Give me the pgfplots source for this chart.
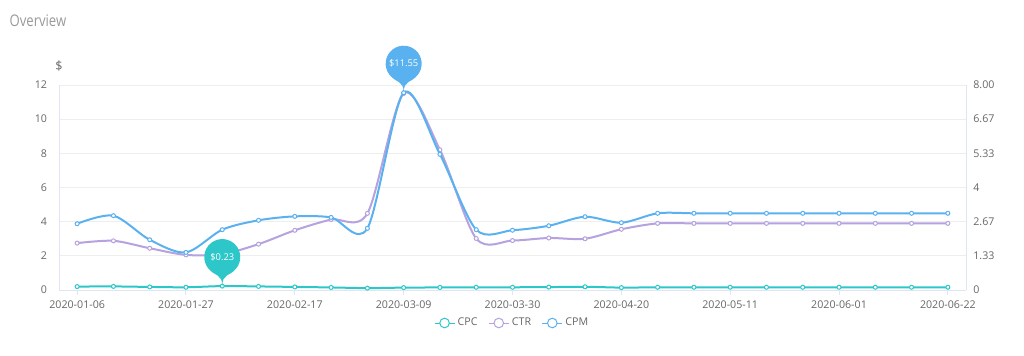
\documentclass[border=0pt]{standalone}
\usepackage{fontspec}
\setmainfont{Open Sans}
\newfontfamily\titlefont{Open Sans}[FakeStretch=0.82]
\usepackage{pgfplots}
\usepackage{pgfplotstable}
\pgfplotsset{compat=1.18}
\definecolor{cpc}{HTML}{2EC7C9}
\definecolor{ctr}{HTML}{B6A2DE}
\definecolor{cpm}{HTML}{5AB1EF}
\definecolor{axisline}{HTML}{E0E6F1}
\definecolor{gridc}{HTML}{EEEEEE}
\definecolor{labc}{HTML}{666666}
\definecolor{titlec}{HTML}{999999}

\pgfdeclareplotmark{pin}{%
  \pgfpathmoveto{\pgfpoint{-10.58pt}{13.37pt}}%
  \pgfpatharc{218.4}{-38.4}{13.5pt}%
  \pgfpathcurveto{\pgfpoint{5.55pt}{7.01pt}}{\pgfpoint{0pt}{9.45pt}}{\pgfpoint{0pt}{0pt}}%
  \pgfpathcurveto{\pgfpoint{0pt}{9.45pt}}{\pgfpoint{-5.55pt}{7.01pt}}{\pgfpoint{-10.58pt}{13.37pt}}%
  \pgfpathclose
  \pgfusepathqfill
}

% week index, CPC ($), CTR (%), CPM ($)
\pgfplotstableread{
idx cpc  ctr  cpm
0   0.20 1.83 3.88
1   0.21 1.92 4.35
2   0.18 1.63 2.94
3   0.16 1.37 2.20
4   0.23 1.40 3.53
5   0.21 1.79 4.08
6   0.18 2.33 4.31
7   0.15 2.75 4.25
8   0.11 2.99 3.61
9   0.14 7.67 11.55
10  0.15 5.47 7.94
11  0.16 2.01 3.53
12  0.16 1.93 3.50
13  0.17 2.03 3.76
14  0.19 2.00 4.29
15  0.14 2.37 3.94
16  0.16 2.60 4.49
17  0.16 2.60 4.49
18  0.16 2.60 4.49
19  0.16 2.60 4.49
20  0.16 2.60 4.49
21  0.16 2.60 4.49
22  0.16 2.60 4.49
23  0.16 2.60 4.49
24  0.16 2.60 4.49
}\datatable

\pgfplotsset{
  common/.style={
    scale only axis,
    width=680.25pt, height=153.75pt,
    at={(44.25pt,48.75pt)}, anchor=south west,
    xmin=-0.5, xmax=24.5,
    ymin=0,
    axis line style={draw=axisline, line width=0.75pt},
    tick label style={font=\fontsize{8}{9.6}\selectfont, text=labc},
    /pgf/number format/assume math mode=true,
    ytick style={draw=none},
  },
  series/.style={color=#1, line width=1.5pt, smooth, mark=*, mark size=1.5pt,
    mark options={fill=white, draw=#1, line width=0.75pt}},
}

\begin{document}
\begin{tikzpicture}
\path[use as bounding box] (0,0) rectangle (768pt,266.25pt);
\node[anchor=west, font=\titlefont\fontsize{12}{14}\selectfont, text=titlec, inner sep=0pt] at (7pt,250.5pt) {Overview};

% right axis: CTR (%)
\begin{axis}[common,
  ymax=8,
  axis y line*=right, axis x line=none,
  ytick={0,1.3333,2.6667,4,5.3333,6.6667,8},
  yticklabels={0,1.33,2.67,4,5.33,6.67,8.00},
  ymajorgrids, grid style={draw=gridc, line width=0.6pt},
  yticklabel style={xshift=2pt},
]
\addplot[series=ctr] table[x=idx, y=ctr] {\datatable};
\node[font=\fontsize{9.5}{11}\selectfont, text=labc] at (rel axis cs:1,1) [yshift=14.25pt] {\%};
\end{axis}

% left axis: CPC, CPM ($)
\begin{axis}[common,
  ymax=12,
  clip=false,
  axis y line*=left, axis x line*=bottom,
  ytick={0,2,...,12},
  yticklabel style={xshift=-2pt},
  xtick={0,3,...,24},
  xticklabels={2020-01-06,2020-01-27,2020-02-17,2020-03-09,2020-03-30,2020-04-20,2020-05-11,2020-06-01,2020-06-22},
  xtick style={draw=axisline, line width=0.75pt},
  major tick length=3.5pt,
  tick align=outside,
  xticklabel style={yshift=-1pt},
  legend columns=3,
  legend style={at={(0.5,-0.161)}, anchor=center, draw=none, fill=none,
    font=\fontsize{8}{9.6}\selectfont, text=labc,
    /tikz/every even column/.append style={column sep=6pt}},
  legend image code/.code={%
    \draw[#1, line width=0.75pt, mark=none] (0pt,0pt) -- (15pt,0pt);
    \draw[#1, line width=0.75pt, fill=white, mark=none] (7.5pt,0pt) circle (3.6pt);},
]
\addplot[series=cpc] table[x=idx, y=cpc] {\datatable};
\addlegendentry{CPC}
\addlegendimage{series=ctr}
\addlegendentry{CTR}
\addplot[series=cpm] table[x=idx, y=cpm] {\datatable};
\addlegendentry{CPM}

\addplot[forget plot, only marks, mark=pin, color=cpc, mark options={fill=cpc},
  nodes near coords={\$0.23},
  every node near coord/.append style={anchor=center, yshift=21.75pt, text=white,
    font=\fontsize{7}{8}\selectfont}]
  coordinates {(4,0.23)};
\addplot[forget plot, only marks, mark=pin, color=cpm, mark options={fill=cpm},
  nodes near coords={\$11.55},
  every node near coord/.append style={anchor=center, yshift=21.75pt, text=white,
    font=\fontsize{7}{8}\selectfont}]
  coordinates {(9,11.55)};
\node[font=\fontsize{9.5}{11}\selectfont, text=labc] at (rel axis cs:0,1) [yshift=14.25pt] {\$};
\end{axis}
\end{tikzpicture}
\end{document}
